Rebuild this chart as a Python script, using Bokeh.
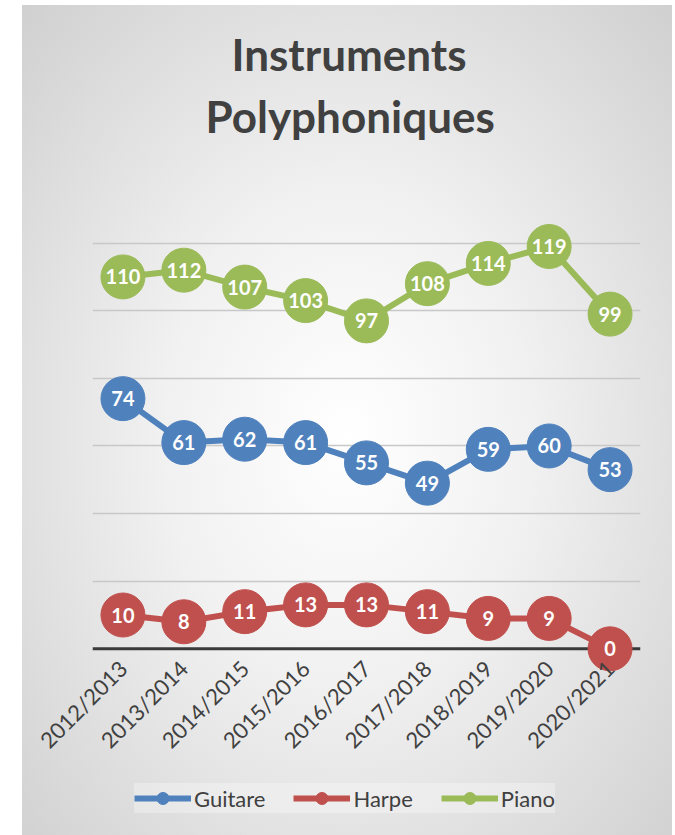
import math
from bokeh.plotting import figure
from bokeh.models import (FactorRange, Range1d, FixedTicker, Title, Legend, LegendItem,
                          Span, ColumnDataSource, Spacer)
from bokeh.layouts import row, column
from bokeh.core.properties import value
from bokeh.embed import file_html
from bokeh.resources import INLINE

seasons = ["2012/2013", "2013/2014", "2014/2015", "2015/2016", "2016/2017",
           "2017/2018", "2018/2019", "2019/2020", "2020/2021"]
guitare = [74, 61, 62, 61, 55, 49, 59, 60, 53]
harpe = [10, 8, 11, 13, 13, 11, 9, 9, 0]
piano = [110, 112, 107, 103, 97, 108, 114, 119, 99]
series_names = ["Guitare", "Harpe", "Piano"]
series_values = [guitare, harpe, piano]
series_colors = ["#4F81BD", "#C0504D", "#9BBB59"]
grid_ticks = [20, 40, 60, 80, 100, 120, 140]

FONT = "Lato"
TXT = "#404040"

p = figure(x_range=FactorRange(factors=seasons, range_padding=0),
           y_range=Range1d(-7, 140),
           width=650, height=760, output_backend="svg", toolbar_location=None,
           min_border_left=70, min_border_right=32, min_border_top=170,
           min_border_bottom=92)
p.border_fill_color = None
p.background_fill_color = None
p.outline_line_color = None

# titles (spacer title first, closest to the frame)
t0 = Title(text=" ", text_font_size="1px", standoff=27)
t2 = Title(text="Polyphoniques", align="left", offset=113, text_font=FONT,
           text_font_size="44px", text_font_style="bold", text_color=TXT, standoff=8)
t1 = Title(text="Instruments", align="left", offset=139, text_font=FONT,
           text_font_size="44px", text_font_style="bold", text_color=TXT, standoff=8)
p.add_layout(t0, "above")
p.add_layout(t2, "above")
p.add_layout(t1, "above")

# axes and grid
p.yaxis.visible = False
p.yaxis.ticker = FixedTicker(ticks=grid_ticks)
p.ygrid.ticker = FixedTicker(ticks=grid_ticks)
p.ygrid.grid_line_color = "#c8c8c8"
p.ygrid.grid_line_width = 1.5
p.xgrid.visible = False

p.xaxis.axis_line_color = None
p.xaxis.major_tick_line_color = None
p.xaxis.minor_tick_line_color = None
p.xaxis.major_tick_out = 0
p.xaxis.major_tick_in = 0
p.xaxis.major_label_orientation = math.pi / 4
p.xaxis.major_label_standoff = -8
p.xaxis.major_label_text_font = FONT
p.xaxis.major_label_text_font_size = "22px"
p.xaxis.major_label_text_color = TXT

zero_line = Span(location=0, dimension="width", line_color="#3a3a3a", line_width=3,
                 level="underlay")
p.add_layout(zero_line)

sources = []
for name, vals, col in zip(series_names, series_values, series_colors):
    src = ColumnDataSource(dict(x=seasons, y=vals, lab=[str(v) for v in vals]))
    sources.append(src)
    p.line("x", "y", source=src, line_color=col, line_width=6)
    p.scatter("x", "y", source=src, size=44, fill_color=col, line_color=col)
    p.text("x", "y", text="lab", source=src, text_color="white", text_font=value(FONT),
           text_font_size="20px", text_font_style="bold", text_align="center",
           text_baseline="middle")

# legend strip below the chart: same series, drawn out of view, only the legend shows
pl = figure(width=650, height=70, output_backend="svg", toolbar_location=None,
            x_range=FactorRange(factors=seasons), y_range=Range1d(1000, 1001),
            min_border_left=0, min_border_right=0, min_border_top=0, min_border_bottom=0)
pl.axis.visible = False
pl.grid.visible = False
pl.border_fill_color = None
pl.background_fill_color = None
pl.outline_line_color = None

items = []
for name, col, src in zip(series_names, series_colors, sources):
    ln = pl.line("x", "y", source=src, line_color=col, line_width=6)
    sc = pl.scatter("x", "y", source=src, size=12, fill_color=col, line_color=col)
    items.append(LegendItem(label=name, renderers=[ln, sc]))

legend = Legend(items=items, orientation="horizontal", location=(42, 22),
                glyph_width=57, glyph_height=30, label_height=30,
                label_text_font=FONT, label_text_font_size="22px",
                label_text_color=TXT, label_standoff=3, spacing=28, padding=8,
                margin=0, background_fill_color="#ffffff", background_fill_alpha=0.3,
                border_line_color=None)
pl.add_layout(legend)

inner = column(p, pl)
inner.styles = {"background-image":
                "radial-gradient(ellipse at 50% 52%, #ffffff 0%, #f1f1f1 40%, #d0d0d0 100%)",
                "gap": "0px"}
layout = row(Spacer(width=22, height=5), column(Spacer(width=10, height=5), inner))
open("out.html", "w").write(file_html(layout, INLINE))
